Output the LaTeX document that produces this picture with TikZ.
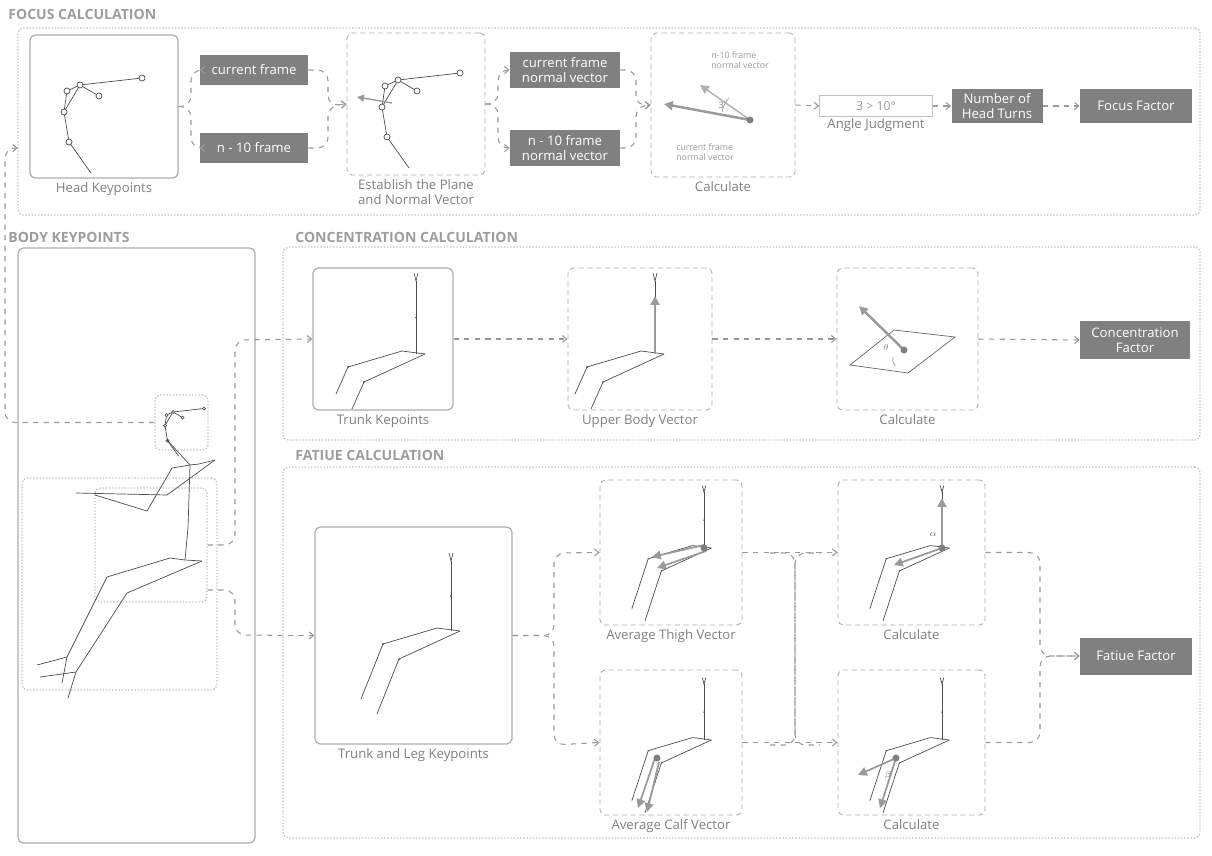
\documentclass[tikz,border=0pt]{standalone}
\usepackage{fontspec}
\setmainfont{Open Sans}
\usetikzlibrary{positioning,fit,arrows.meta}

\definecolor{boxgray}{HTML}{808080}
\definecolor{linegray}{HTML}{9A9A9A}
\definecolor{framegray}{HTML}{C4C4C4}

\tikzset{
  section/.style={draw=framegray, densely dotted, line width=0.8pt, rounded corners=3pt, inner sep=0pt},
  panel/.style={draw=linegray!80, line width=0.7pt, rounded corners=3pt, inner sep=0pt},
  dpanel/.style={draw=linegray!80, densely dashed, line width=0.5pt, rounded corners=3pt, inner sep=0pt},
  dark/.style={fill=boxgray, text=white, align=center, font=\fontsize{7.5}{8.5}\selectfont, inner sep=1pt},
  lbl/.style={text=boxgray, align=center, font=\fontsize{7.5}{8.5}\selectfont, inner sep=1pt},
  sectitle/.style={text=framegray!80!black, font=\bfseries\fontsize{8}{9}\selectfont, anchor=west, inner sep=0pt},
  link/.style={draw=linegray, dashed, line width=0.6pt, rounded corners=6pt, -{Straight Barb[length=2.5pt,width=4pt]}},
  bone/.style={draw=black!70, line width=0.4pt},
  vec/.style={draw=linegray, line width=1.4pt, -{Triangle[length=5pt,width=5pt]}},
  kp/.style={draw=black!70, fill=white, line width=0.4pt},
  pics/headpts/.style={code={
    \draw[bone] (62,-7) -- (0,0) -- (-13,6) -- (-16,27) -- (-11,57) -- (11,88);
    \draw[bone] (0,0) -- (19,11);
    \draw[bone] (0,0) -- (-16,27);
    \foreach \p in {(62,-7),(0,0),(-13,6),(19,11),(-16,27),(-11,57)}
      \draw[kp] \p circle (3);
  }},
  pics/trunk/.style n args={3}{code={
    \draw[bone] (0,{-#1}) -- (0,0);
    \draw[bone] (-2,{-#1-8}) -- (0,{-#1}) -- (2,{-#1-8});
    \draw[bone] (-14,-3) -- (9,0);
    \draw[bone] (-14,-3) -- (-68,13) -- ({-68-#3},{13+#2});
    \draw[bone] (9,0) -- (-52,28) -- ({-52-#3},{28+#2});
    \fill[black!70] (0,{-#1/2}) circle (1) (-68,13) circle (1) (-52,28) circle (1);
  }}
}

\begin{document}
\begin{tikzpicture}[x=0.02cm, y=-0.02cm]
  \useasboundingbox (0,0) rectangle (1212,855);

  % focus calculation
  \node[sectitle] at (8,14) {FOCUS CALCULATION};
  \node[section, fit={(18,28) (1200,215)}] (focus) {};
  \node[panel, fit={(30,35) (178,178)}] (headbox) {};
  \node[lbl, below=1pt of headbox] {Head Keypoints};
  \pic at (80,85) {headpts};
  \node[dark, minimum width=2.16cm, minimum height=0.6cm] at (254,70) (cf) {current frame};
  \node[dark, minimum width=2.16cm, minimum height=0.6cm] at (254,148) (nf) {n - 10 frame};
  \node[dpanel, fit={(347,33) (485,175)}] (estbox) {};
  \node[lbl, below=1pt of estbox] {Establish the Plane\\and Normal Vector};
  \pic at (398,80) {headpts};
  \draw[draw=linegray, line width=0.8pt, -{Triangle[length=4pt,width=4pt]}] (392,103) -- (357,97);
  \node[dark, minimum width=2.2cm, minimum height=0.72cm] at (565,70) (cfn) {current frame\\normal vector};
  \node[dark, minimum width=2.2cm, minimum height=0.72cm] at (565,148) (nfn) {n - 10 frame\\normal vector};
  \node[dpanel, fit={(651,33) (795,177)}] (angbox) {};
  \node[lbl, below=1pt of angbox] {Calculate};
  \coordinate (o) at (750,120);
  \draw[draw=linegray!80, line width=0.8pt, -{Triangle[length=5pt,width=5pt]}] (o) -- (700,85);
  \draw[vec] (o) -- (664,104);
  \fill[boxgray] (o) circle (3.5);
  \draw[linegray] (722,112) arc (190:222:28);
  \node[lbl, font=\tiny] at (721,105) {3};
  \node[lbl, font=\tiny, text=linegray, align=left] at (740,60) {n-10 frame\\normal vector};
  \node[lbl, font=\tiny, text=linegray, align=left] at (705,152) {current frame\\normal vector};
  \node[draw=linegray!60, text=linegray, minimum width=2.26cm, minimum height=0.42cm, inner sep=0pt, font=\fontsize{7}{8}\selectfont] at (876,106) (judge) {3 > 10°};
  \node[lbl, below=0pt of judge] {Angle Judgment};
  \node[dark, minimum width=1.82cm, minimum height=0.7cm] at (997,106) (turns) {Number of\\Head Turns};
  \node[dark, minimum width=2.24cm, minimum height=0.7cm] at (1136,106) (ffac) {Focus Factor};

  \draw[link] (headbox.east) -| (191,70) -- (cf.west);
  \draw[link] (headbox.east) -| (191,148) -- (nf.west);
  \draw[link] (cf.east) -| (328,106) -- (estbox.west);
  \draw[link] (nf.east) -| (328,106) -- (estbox.west);
  \draw[link] (estbox.east) -| (498,70) -- (cfn.west);
  \draw[link] (estbox.east) -| (498,148) -- (nfn.west);
  \draw[link] (cfn.east) -| (636,106) -- (angbox.west);
  \draw[link] (nfn.east) -| (636,106) -- (angbox.west);
  \draw[link] (angbox.east) -- (judge.west);
  \draw[link] (judge.east) -- (turns.west);
  \draw[link] (turns.east) -- (ffac.west);

  % body keypoints
  \node[sectitle] at (8,237) {BODY KEYPOINTS};
  \node[panel, fit={(18,248) (255,843)}] (body) {};
  \node[section, fit={(155,395) (208,450)}] (bhead) {};
  \node[section, fit={(22,478) (217,690)}] (blegs) {};
  \node[section, fit={(95,488) (207,602)}] (btrunk) {};
  \pic[scale=0.5] at (173,412) {headpts};
  \draw[bone] (167,440) -- (190,465) -- (188,528) -- (185,560);
  \draw[bone] (172,468) -- (190,465) -- (199,464) -- (215,460);
  \draw[bone] (172,468) -- (147,511) -- (95,495);
  \draw[bone] (215,460) -- (167,495) -- (76,493);
  \draw[bone] (170,558) -- (185,560) -- (202,561);
  \draw[bone] (170,558) -- (107,577) -- (67,657) -- (37,665);
  \draw[bone] (67,657) -- (62,683);
  \draw[bone] (202,561) -- (127,593) -- (76,672) -- (40,677);
  \draw[bone] (76,672) -- (68,698);
  \coordinate (fin) at (18,148);
  \draw[link] (bhead.west) -| (5,148) -- (fin);

  % concentration calculation
  \node[sectitle] at (295,237) {CONCENTRATION CALCULATION};
  \node[section, fit={(283,247) (1200,440)}] (conc) {};
  \node[panel, fit={(313,268) (453,410)}] (tkbox) {};
  \node[lbl, below=1pt of tkbox] {Trunk Kepoints};
  \pic at (416,354) {trunk={73}{27}{12}};
  \node[dpanel, fit={(568,268) (712,410)}] (ubbox) {};
  \node[lbl, below=1pt of ubbox] {Upper Body Vector};
  \pic at (655,354) {trunk={73}{27}{12}};
  \draw[vec] (655,354) -- (655,296);
  \node[dpanel, fit={(837,268) (978,410)}] (ccbox) {};
  \node[lbl, below=1pt of ccbox] {Calculate};
  \draw[bone, black!60] (850,365) -- (894,330) -- (955,337) -- (908,373) -- cycle;
  \draw[vec] (904,350) -- (859,306);
  \fill[boxgray] (904,350) circle (3.5);
  \draw[linegray] (893,357) arc (200:130:8);
  \node[lbl, font=\tiny] at (886,347) {$\theta$};
  \node[dark, minimum width=2.2cm, minimum height=0.76cm] at (1135,340) (cfac) {Concentration\\Factor};
  \draw[link] (btrunk.east) -| (235,340) -- (tkbox.west);
  \draw[link] (tkbox.east) -- (ubbox.west);
  \draw[link] (ubbox.east) -- (ccbox.west);
  \draw[link] (ccbox.east) -- (cfac.west);

  % fatigue calculation
  \node[sectitle] at (295,455) {FATIUE CALCULATION};
  \node[section, fit={(283,467) (1200,838)}] (fat) {};
  \node[panel, fit={(315,527) (512,744)}] (tlbox) {};
  \node[lbl, below=1pt of tlbox] {Trunk and Leg Keypoints};
  \pic at (451,631) {trunk={70}{55}{22}};
  \node[dpanel, fit={(600,480) (742,625)}] (thbox) {};
  \node[lbl, below=1pt of thbox] {Average Thigh Vector};
  \pic[scale=0.82] at (704,548) {trunk={68}{61}{20}};
  \draw[vec, line width=1pt] (704,545) -- (652,557);
  \draw[vec, line width=1pt] (706,551) -- (657,568);
  \fill[boxgray] (704,548) circle (3.5);
  \node[dpanel, fit={(600,670) (742,815)}] (cvbox) {};
  \node[lbl, below=1pt of cvbox] {Average Calf Vector};
  \pic[scale=0.82] at (704,740) {trunk={68}{61}{20}};
  \draw[vec, line width=1pt] (655,758) -- (638,808);
  \draw[vec, line width=1pt] (659,762) -- (647,812);
  \fill[boxgray] (657,758) circle (3.5);
  \node[dpanel, fit={(838,480) (985,625)}] (c1box) {};
  \node[lbl, below=1pt of c1box] {Calculate};
  \pic[scale=0.82] at (942,548) {trunk={68}{61}{20}};
  \draw[vec, line width=1pt] (942,548) -- (942,498);
  \draw[vec, line width=1pt] (942,548) -- (894,565);
  \fill[boxgray] (942,548) circle (3.5);
  \node[lbl, font=\tiny] at (933,535) {$\alpha$};
  \node[dpanel, fit={(838,670) (985,815)}] (c2box) {};
  \node[lbl, below=1pt of c2box] {Calculate};
  \pic[scale=0.82] at (942,740) {trunk={68}{61}{20}};
  \draw[vec, line width=1pt] (896,758) -- (880,808);
  \draw[vec, line width=1pt] (896,758) -- (858,775);
  \fill[boxgray] (896,758) circle (3.5);
  \node[lbl, font=\tiny] at (888,775) {$\beta$};
  \node[dark, minimum width=2.24cm, minimum height=0.74cm] at (1136,656) (gfac) {Fatiue Factor};

  \draw[link] (btrunk.east |- 0,590) -| (235,635) -- (tlbox.west);
  \draw[link] (tlbox.east) -| (554,553) -- (thbox.west);
  \draw[link] (tlbox.east) -| (554,745) -- (cvbox.west);
  \draw[link] (thbox.east) -- (c1box.west);
  \draw[link] (cvbox.east) -- (c2box.west);
  \draw[draw=linegray, dashed, line width=0.6pt, rounded corners=6pt] (770,553) -| (795,745) -- (820,745);
  \draw[draw=linegray, dashed, line width=0.6pt, rounded corners=6pt] (770,745) -| (795,553) -- (820,553);
  \draw[link] (c1box.east) -| (1040,656) -- (gfac.west);
  \draw[link] (c2box.east) -| (1040,656) -- (gfac.west);
\end{tikzpicture}
\end{document}
